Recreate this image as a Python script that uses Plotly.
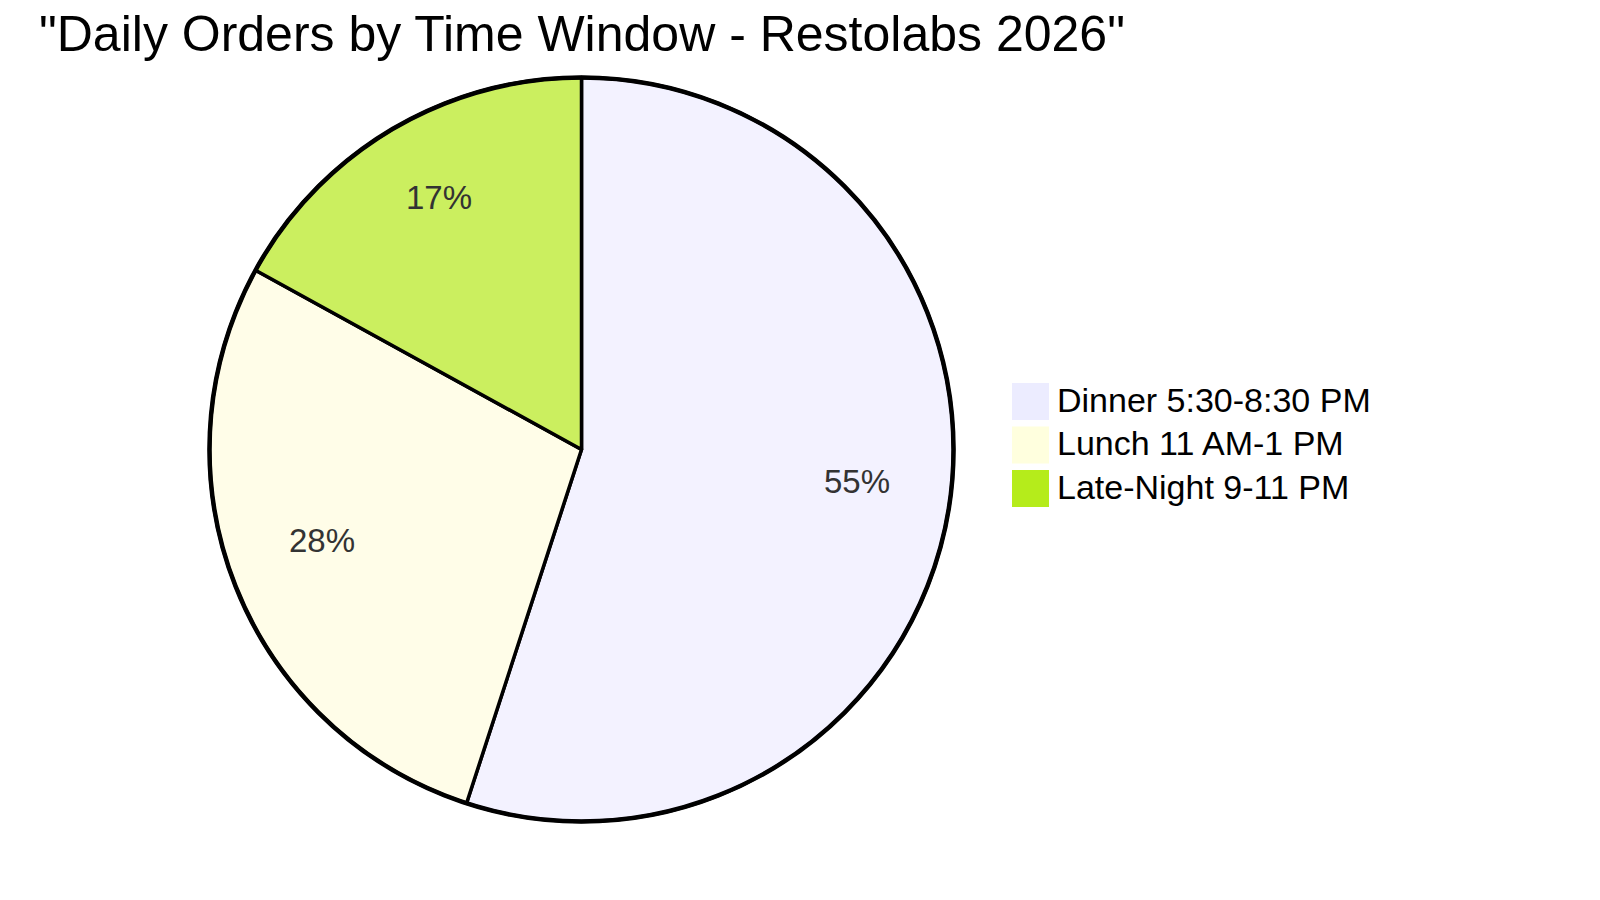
import math
import plotly.graph_objects as go

# daily orders share per time window
labels = ['Dinner 5:30-8:30 PM', 'Lunch 11 AM-1 PM', 'Late-Night 9-11 PM']
values = [55, 28, 17]
slice_colors = ['#F3F2FF', '#FFFDE8', '#CBEF5F']
legend_colors = ['#ECECFF', '#FFFFDE', '#B5EC1B']

W, H = 1600, 900
cx, cy, r = 573.5, 441.5, 372

fig = go.Figure()
fig.add_pie(labels=labels, values=values, sort=False, direction='clockwise',
            rotation=0, showlegend=False, textinfo='none',
            marker=dict(colors=slice_colors, line=dict(color='#000000', width=3.5)),
            hoverinfo='label+percent',
            domain=dict(x=[(cx - r) / W, (cx + r) / W],
                        y=[1 - (cy + r) / H, 1 - (cy - r) / H]))

# outer ring
fig.add_shape(type='circle', xref='paper', yref='paper',
              x0=(cx - r) / W, x1=(cx + r) / W,
              y0=1 - (cy + r) / H, y1=1 - (cy - r) / H,
              line=dict(color='#000000', width=4.5))

# percentage labels at 3/4 of the radius, mid-angle of each slice
total = sum(values)
start = 0
for v in values:
    mid = (start + v / 2) / total * 2 * math.pi
    start += v
    fig.add_annotation(text=f'{round(100 * v / total)}%', xref='paper', yref='paper',
                       x=(cx + 0.75 * r * math.sin(mid)) / W,
                       y=1 - (cy - 0.75 * r * math.cos(mid)) / H,
                       xanchor='center', yanchor='middle', yshift=12, showarrow=False,
                       font=dict(family='Liberation Sans', size=33, color='#333333'))

# legend drawn by hand for the big square swatches
for i, (lab, col) in enumerate(zip(labels, legend_colors)):
    top = 375 + 43.5 * i
    fig.add_shape(type='rect', xref='paper', yref='paper',
                  x0=1004 / W, x1=1041 / W, y0=1 - (top + 37) / H, y1=1 - top / H,
                  fillcolor=col, line=dict(width=0))
    fig.add_annotation(text=lab, xref='paper', yref='paper',
                       x=1047 / W, y=1 - (top + 17) / H, xanchor='left', yanchor='middle',
                       showarrow=False,
                       font=dict(family='Liberation Sans', size=34, color='#000000'))

fig.update_layout(
    width=W, height=H,
    margin=dict(l=0, r=0, t=0, b=0),
    paper_bgcolor='#FFFFFF', plot_bgcolor='#FFFFFF',
    title=dict(text='"Daily Orders by Time Window - Restolabs 2026"',
               x=31 / W, xanchor='left', y=1 - 25 / H, yanchor='middle',
               font=dict(family='Liberation Sans', size=50, color='#000000')),
)

fig.write_html('out.html')
